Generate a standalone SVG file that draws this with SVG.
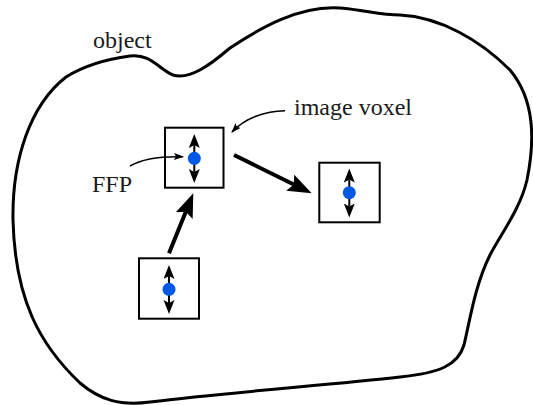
<svg xmlns="http://www.w3.org/2000/svg" width="533" height="405" viewBox="0 0 533 405">
<style>
.lbl{font-family:'Liberation Serif','Times New Roman','DejaVu Serif',serif;font-size:24px;fill:#1a1a1a}
.box{fill:#fff;stroke:#000;stroke-width:2}
.dot{fill:#0058e6}
.vec{stroke:#000;stroke-width:2;fill:none}
.big{stroke:#000;stroke-width:4;fill:none}
.thin{stroke:#000;stroke-width:1.5;fill:none}
</style>
<defs>
<marker id="bigHead" markerUnits="userSpaceOnUse" markerWidth="26" markerHeight="20" refX="4" refY="9" orient="auto">
<path d="M0,0 L24,9 L0,18 L4,9 Z" fill="#000"/>
</marker>
<marker id="vecHead" markerUnits="userSpaceOnUse" markerWidth="16" markerHeight="12" refX="3" refY="5.5" orient="auto-start-reverse">
<path d="M0,0 L14,5.5 L0,11 L3,5.5 Z" fill="#000"/>
</marker>
<marker id="thinHead" markerUnits="userSpaceOnUse" markerWidth="11" markerHeight="8" refX="9" refY="3.5" orient="auto">
<path d="M0,0 L10,3.5 L0,7 L2,3.5 Z" fill="#000"/>
</marker>
</defs>
<g id="object">
<path d="M130,56 C150,53 160,70 173,75 C190,80 210,65 230,48 C260,28 300,5 340,8 C365,10 380,15 400,15 C440,17 480,40 510,70 C535,100 535,140 527,180 C520,210 500,235 490,255 C475,285 470,320 464,345 C458,365 440,373 400,377 C330,385 230,392 150,402 C120,406 100,400 80,383 C40,345 15,300 13,220 C12,160 30,105 66,77 C90,62 115,58 130,56 Z" fill="none" stroke="#000" stroke-width="3"/>
<text class="lbl" font-family="Liberation Serif, serif" x="93" y="48">object</text>
</g>
<g id="voxel1">
<rect class="box" x="165" y="127.7" width="58.5" height="60"/>
<line class="vec" x1="194.3" y1="145" x2="194.3" y2="172" marker-start="url(#vecHead)" marker-end="url(#vecHead)"/>
<circle class="dot" cx="194.3" cy="158.3" r="6.5"/>
</g>
<g id="voxel2">
<rect class="box" x="319.3" y="162.7" width="60.4" height="59.6"/>
<line class="vec" x1="349.3" y1="179.5" x2="349.3" y2="206.5" marker-start="url(#vecHead)" marker-end="url(#vecHead)"/>
<circle class="dot" cx="349.3" cy="192.7" r="6.5"/>
</g>
<g id="voxel3">
<rect class="box" x="139" y="258.3" width="60" height="60.4"/>
<line class="vec" x1="169" y1="276" x2="169" y2="303" marker-start="url(#vecHead)" marker-end="url(#vecHead)"/>
<circle class="dot" cx="169" cy="289.3" r="6.5"/>
</g>
<g id="label-image-voxel">
<text class="lbl" font-family="Liberation Serif, serif" x="294" y="115">image voxel</text>
</g>
<g id="label-ffp">
<text class="lbl" font-family="Liberation Serif, serif" x="92" y="191.5">FFP</text>
</g>
<g id="connectors">
<line class="big" x1="234" y1="155" x2="293.8" y2="184.5" marker-end="url(#bigHead)"/>
<line class="big" x1="169" y1="253.3" x2="185.8" y2="211.8" marker-end="url(#bigHead)"/>
<path class="thin" d="M285,110.7 C265,111 245,118 232,132" marker-end="url(#thinHead)"/>
<path class="thin" d="M130,166 C140,160 155,156 183,156.7" marker-end="url(#thinHead)"/>
</g>
</svg>
